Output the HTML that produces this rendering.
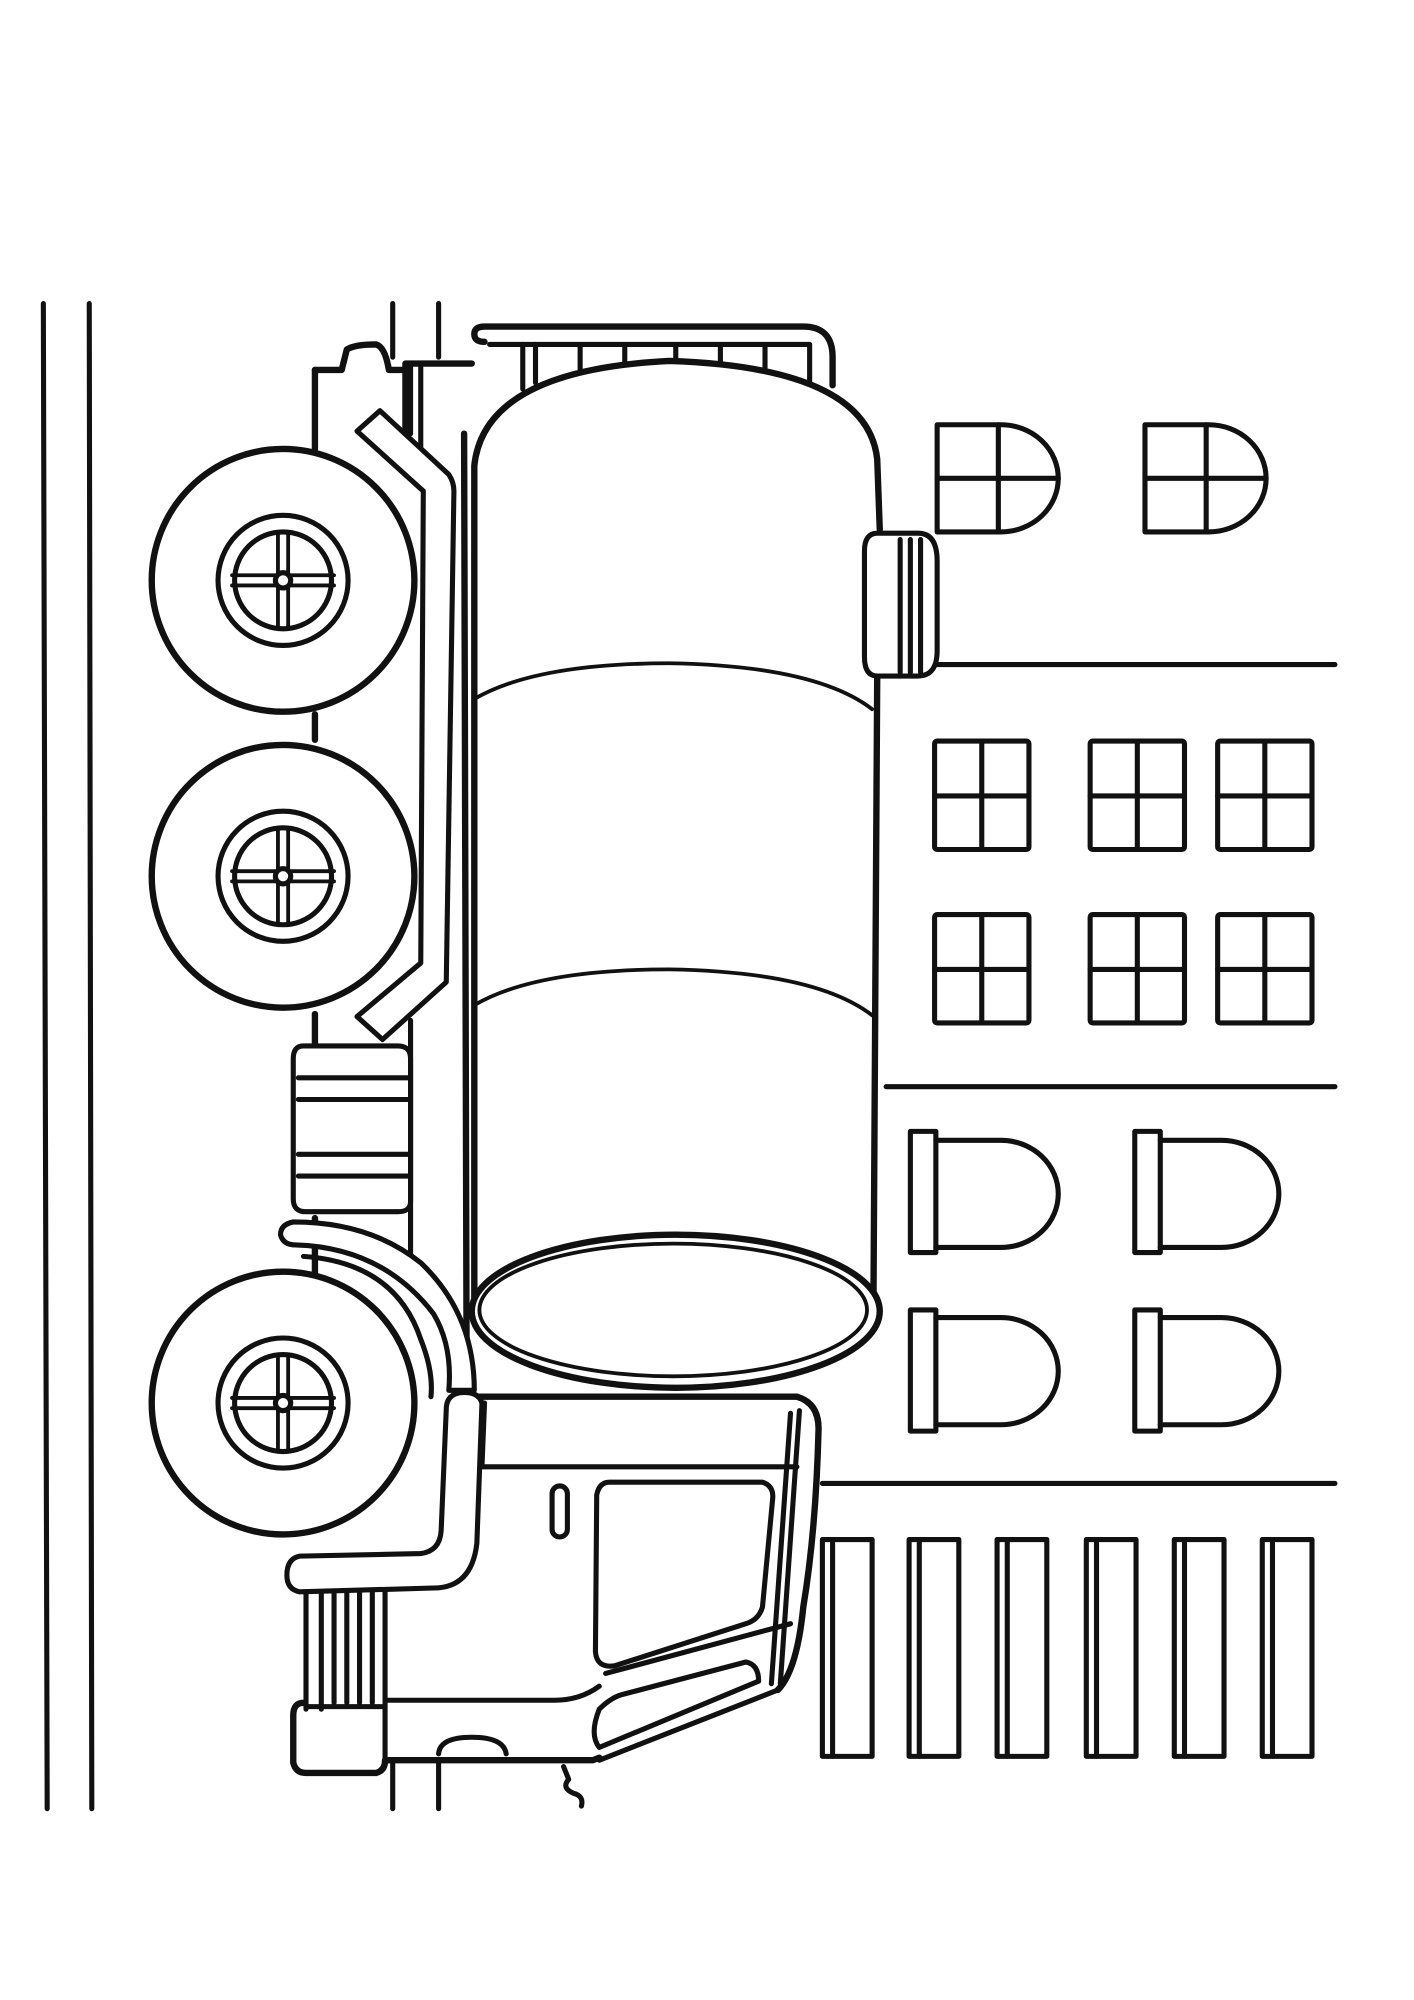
<!DOCTYPE html>
<html><head><meta charset="utf-8"><style>
html,body{margin:0;padding:0;background:#fff}
svg{display:block}
</style></head><body>
<svg width="1414" height="2000" viewBox="0 0 1109 1568" preserveAspectRatio="none" xmlns="http://www.w3.org/2000/svg">
<g fill="none" stroke="#111" stroke-width="4" stroke-linecap="round" stroke-linejoin="round">
<line x1="34" y1="238" x2="37" y2="1418"/>
<line x1="70" y1="238" x2="72" y2="1418"/>
<line x1="308" y1="238" x2="308" y2="280"/>
<line x1="344" y1="238" x2="344" y2="280"/>
<line x1="308" y1="1380" x2="308" y2="1418"/>
<line x1="344" y1="1380" x2="344" y2="1418"/>
<line x1="735" y1="521" x2="1047" y2="521"/>
<line x1="695" y1="852" x2="1047" y2="852"/>
<line x1="645" y1="1163" x2="1047" y2="1163"/>
<g>
<path d="M735,333 H785 A45,42 0 0 1 785,417 H735 Z"/><line x1="783" y1="333" x2="783" y2="417"/><line x1="735" y1="375" x2="830" y2="375"/>
<path d="M898,333 H948 A45,42 0 0 1 948,417 H898 Z"/><line x1="946" y1="333" x2="946" y2="417"/><line x1="898" y1="375" x2="993" y2="375"/>
</g>
<g>
<rect x="733" y="581" width="74" height="85" rx="2"/><line x1="770" y1="581" x2="770" y2="666"/><line x1="733" y1="624" x2="807" y2="624"/>
<rect x="855" y="581" width="74" height="85" rx="2"/><line x1="892" y1="581" x2="892" y2="666"/><line x1="855" y1="624" x2="929" y2="624"/>
<rect x="955" y="581" width="74" height="85" rx="2"/><line x1="992" y1="581" x2="992" y2="666"/><line x1="955" y1="624" x2="1029" y2="624"/>
<rect x="733" y="717" width="74" height="85" rx="2"/><line x1="770" y1="717" x2="770" y2="802"/><line x1="733" y1="760" x2="807" y2="760"/>
<rect x="855" y="717" width="74" height="85" rx="2"/><line x1="892" y1="717" x2="892" y2="802"/><line x1="855" y1="760" x2="929" y2="760"/>
<rect x="955" y="717" width="74" height="85" rx="2"/><line x1="992" y1="717" x2="992" y2="802"/><line x1="955" y1="760" x2="1029" y2="760"/>
</g>
<g>
<rect x="714" y="887" width="20" height="95"/><path d="M734,894 H785 A45,42 0 0 1 785,978 H734"/>
<rect x="890" y="887" width="20" height="95"/><path d="M910,894 H958 A45,42 0 0 1 958,978 H910"/>
<rect x="714" y="1027" width="20" height="95"/><path d="M734,1033 H785 A45,42 0 0 1 785,1117 H734"/>
<rect x="890" y="1027" width="20" height="95"/><path d="M910,1033 H958 A45,42 0 0 1 958,1117 H910"/>
</g>
<g>
<rect x="645" y="1207" width="39" height="170"/><line x1="653" y1="1207" x2="653" y2="1377"/>
<rect x="713" y="1207" width="39" height="170"/><line x1="721" y1="1207" x2="721" y2="1377"/>
<rect x="782" y="1207" width="39" height="170"/><line x1="790" y1="1207" x2="790" y2="1377"/>
<rect x="852" y="1207" width="39" height="170"/><line x1="860" y1="1207" x2="860" y2="1377"/>
<rect x="921" y="1207" width="39" height="170"/><line x1="929" y1="1207" x2="929" y2="1377"/>
<rect x="990" y="1207" width="39" height="170"/><line x1="998" y1="1207" x2="998" y2="1377"/>
</g>
<path stroke-width="5" d="M380,268 Q372,268 372,262 Q372,256 380,256 H630 Q653,256 653,280 V302"/>
<path stroke-width="4" d="M384,270 H410 V305"/>
<path d="M410,270 H635 V300"/>
<path d="M420,300 V270 M455,290 V272 M490,290 V272 M530,290 V272 M565,290 V272 M600,290 V272 M420,272 V300"/>
<path fill="#fff" stroke-width="5" d="M372,1030 L372,365 Q380,290 525,283 Q680,288 688,360 L690,415 M688,530 L685,1030"/>
<path stroke-width="3" d="M372,548 Q420,520 525,520 Q640,522 684,556"/>
<path stroke-width="3" d="M372,788 Q420,760 525,760 Q640,762 684,796"/>
<ellipse cx="530" cy="1028" rx="160" ry="60" stroke-width="5" fill="#fff"/>
<ellipse cx="528" cy="1027" rx="152" ry="52" stroke-width="3"/>
<line x1="364" y1="340" x2="366" y2="1088" stroke-width="5"/>
<path fill="#fff" d="M688,418 H720 Q735,418 735,440 V510 Q735,530 720,530 H688 Q678,530 678,515 V432 Q678,418 688,418 Z"/>
<path d="M706,423 V527 M714,423 V527 M722,423 V527"/>
<path stroke-width="5" d="M247,290 H268 L272,274 Q278,270 295,270 Q302,272 305,290 H318 V285 H370"/>
<path stroke-width="5" d="M247,290 V352 M247,560 V580 M247,795 V820 M247,955 V1000 M318,290 V340"/>
<path d="M322,285 V340 M330,285 V352"/>
<path fill="#fff" d="M280,338 L298,322 L352,372 Q356,378 356,385 L350,770 L300,815 L280,797 L330,755 L332,385 Z"/>
<line x1="322" y1="800" x2="322" y2="985"/>
<path fill="#fff" stroke-width="4" d="M238,820 H312 Q322,820 322,830 V942 Q322,950 312,950 H240 Q230,950 230,940 V830 Q230,820 238,820 Z"/>
<path d="M234,845 H320 M234,862 H320 M234,905 H320 M234,922 H320"/>
<g>
<circle cx="222" cy="455" r="103" fill="#fff" stroke-width="5"/>
<circle cx="222" cy="687" r="103" fill="#fff" stroke-width="5"/>
<circle cx="222" cy="1100" r="103" fill="#fff" stroke-width="5"/>
</g>
<g>
<circle cx="222" cy="455" r="51"/><circle cx="222" cy="455" r="38"/>
<path d="M182,451 H262 M182,459 H262 M218,417 V493 M226,417 V493" stroke-width="3"/>
<circle cx="222" cy="455" r="6" fill="#fff"/>
</g>
<g transform="translate(0,232)"><circle cx="222" cy="455" r="51"/><circle cx="222" cy="455" r="38"/><path d="M182,451 H262 M182,459 H262 M218,417 V493 M226,417 V493" stroke-width="3"/><circle cx="222" cy="455" r="6" fill="#fff"/></g>
<g transform="translate(0,645)"><circle cx="222" cy="455" r="51"/><circle cx="222" cy="455" r="38"/><path d="M182,451 H262 M182,459 H262 M218,417 V493 M226,417 V493" stroke-width="3"/><circle cx="222" cy="455" r="6" fill="#fff"/></g>
<path fill="#fff" stroke-width="4" d="M230,958 Q220,960 220,968 Q222,976 232,976 Q300,978 340,1030 Q355,1055 352,1090 L372,1090 Q372,1030 330,990 Q290,958 230,958 Z"/>
<path d="M238,985 Q310,990 330,1050 Q340,1075 338,1095"/>
<path fill="#fff" stroke-width="5" d="M362,1095 H625 Q642,1100 642,1120 Q640,1200 630,1260 Q625,1310 610,1325"/>
<path stroke-width="4" d="M380,1100 L378,1150 H625"/>
<path d="M627,1106 L612,1320 M620,1108 L605,1320"/>
<path fill="#fff" d="M360,1092 Q375,1090 378,1100 L374,1210 Q370,1245 340,1245 L235,1248 Q225,1246 225,1235 Q225,1222 235,1220 L330,1218 Q345,1216 346,1200 L350,1105 Q350,1094 360,1092 Z"/>
<path d="M478,1162 H598 Q607,1165 606,1175 L598,1260 Q595,1270 585,1273 L482,1306 Q468,1308 467,1295 L468,1172 Q470,1162 478,1162 Z"/>
<rect x="433" y="1165" width="12" height="40" rx="6"/>
<path d="M475,1312 L620,1273"/>
<path fill="#fff" d="M470,1340 Q480,1330 490,1328 L585,1303 Q595,1305 595,1318 L470,1370 Q462,1360 470,1340 Z"/>
<path stroke-width="4" d="M302,1333 H435 Q455,1333 470,1322 M470,1380 L610,1325"/>
<path d="M240,1248 V1340 M252,1248 V1340 M262,1248 V1335 M272,1248 V1335 M282,1248 V1335 M292,1248 V1335 M302,1248 V1380"/>
<path stroke-width="5" d="M238,1335 Q230,1335 230,1345 V1382 Q232,1390 240,1390 H295 Q302,1388 302,1380 H465 L470,1378"/>
<path d="M344,1375 Q345,1362 370,1362 Q395,1362 397,1375"/>
<path d="M442,1385 L446,1395 Q440,1402 450,1406 Q458,1408 456,1416"/>
<line x1="240" y1="1338" x2="302" y2="1338"/>
</g>
</svg>
</body></html>
